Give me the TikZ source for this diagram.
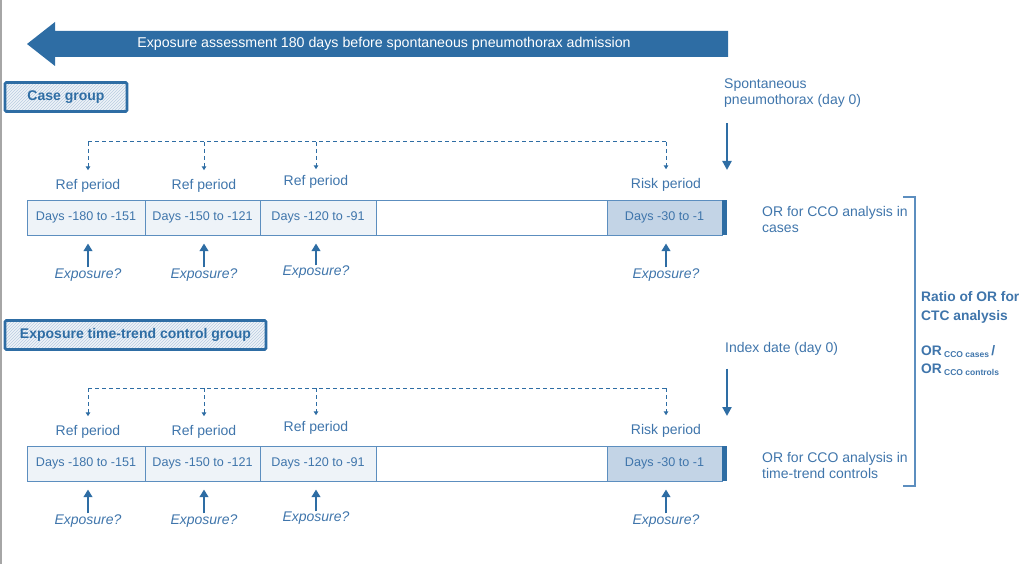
\documentclass[tikz,border=0pt]{standalone}
\usepackage{fontspec}
\setmainfont{Liberation Sans}
\usetikzlibrary{arrows.meta,patterns,calc}
\definecolor{mblue}{HTML}{2E6DA4}
\definecolor{tblue}{HTML}{3F75AB}
\definecolor{cellfill}{HTML}{EEF3F8}
\definecolor{riskfill}{HTML}{C3D4E6}
\definecolor{cellline}{HTML}{5C8EBF}
\definecolor{hatch}{HTML}{B9CCE0}
\tikzset{
  lbl/.style={text=tblue,font=\fontsize{14}{16}\selectfont,inner sep=0pt},
  expo/.style={lbl,font=\fontsize{14}{16}\selectfont\itshape},
  cellbox/.style={draw=cellline,line width=1pt,fill=cellfill,minimum height=35pt,inner sep=0pt,
    text=tblue,font=\fontsize{12.6}{15}\selectfont},
  riskbox/.style={cellbox,fill=riskfill},
  grpbox/.style={draw=mblue,line width=2.6pt,rounded corners=1.2pt,preaction={fill=cellfill},
    pattern=north east lines,pattern color=hatch,minimum height=29pt,inner sep=0pt,
    text=mblue,font=\fontsize{14}{16}\selectfont\bfseries},
  dashlink/.style={draw=mblue,line width=1pt,dash pattern=on 4pt off 3pt},
  dashtip/.style={dashlink,-{Triangle[width=4.5pt,length=4pt]},shorten >=9pt},
  uparrow/.style={draw=mblue,line width=2.6pt,-{Triangle[width=8.5pt,length=7.5pt]}},
  bigdown/.style={draw=mblue,line width=2.6pt,-{Triangle[width=9pt,length=9pt]}},
}
\newcommand\panelrow[2]{%
\begin{scope}[yshift=-#2pt]
  % cells
  \node[cellbox,minimum width=118pt] (#1c1) at (86,217.5) {Days -180 to -151};
  \node[cellbox,minimum width=115pt] (#1c2) at (202.5,217.5) {Days -150 to -121};
  \node[cellbox,minimum width=116pt] (#1c3) at (318,217.5) {Days -120 to -91};
  \node[cellbox,minimum width=231pt,fill=white] (#1c4) at (491.5,217.5) {};
  \node[riskbox,minimum width=115pt] (#1c5) at (664.5,217.5) {Days -30 to -1};
  \node[fill=mblue,minimum width=5pt,minimum height=35pt,inner sep=0pt] (#1end) at (724.5,217.5) {};
  % period labels
  \node[lbl] (#1r1) at (88,186) {Ref period};
  \node[lbl] (#1r2) at (204,186) {Ref period};
  \node[lbl] (#1r3) at (316,182) {Ref period};
  \node[lbl] (#1r4) at (666,185) {Risk period};
  % dashed links
  \coordinate (#1d1) at (88,142);
  \coordinate (#1d2) at (204,142);
  \coordinate (#1d3) at (316,142);
  \coordinate (#1d4) at (666,142);
  \draw[dashlink] (#1d1) -- (#1d4);
  \draw[dashtip] (#1d1) -- (#1r1.north);
  \draw[dashtip] (#1d2) -- (#1r2.north);
  \draw[dashtip,shorten >=6pt] (#1d3) -- (#1r3.north);
  \draw[dashtip] (#1d4) -- (#1r4.north);
  % exposure
  \node[expo] (#1e1) at (88,275) {Exposure?};
  \node[expo] (#1e2) at (204,275) {Exposure?};
  \node[expo] (#1e3) at (316,272) {Exposure?};
  \node[expo] (#1e4) at (666,275) {Exposure?};
  \draw[uparrow,shorten <=1pt,shorten >=8pt] (#1e1.north) -- (#1e1.north |- #1c1.south);
  \draw[uparrow,shorten <=1pt,shorten >=8pt] (#1e2.north) -- (#1e2.north |- #1c2.south);
  \draw[uparrow,shorten <=0pt,shorten >=8pt] (#1e3.north) -- (#1e3.north |- #1c3.south);
  \draw[uparrow,shorten <=1pt,shorten >=8pt] (#1e4.north) -- (#1e4.north |- #1c5.south);
\end{scope}}
\begin{document}
\begin{tikzpicture}[x=1pt,y=-1pt]
\useasboundingbox (0,0) rectangle (1024,564);
\draw[gray!70,line width=1.5pt] (0.75,0) -- (0.75,564);
% big arrow
\fill[mblue] (27,44) -- (55,22) -- (55,31) -- (728,31) -- (728,57) -- (55,57) -- (55,66) -- cycle;
\node[text=white,font=\fontsize{14.2}{16}\selectfont,inner sep=0pt] (title) at (384,44)
  {Exposure assessment 180 days before spontaneous pneumothorax admission};
% case group
\node[grpbox,minimum width=122pt] (case) at (66,97) {Case group};
\node[lbl,anchor=north west,align=left] (spont) at (724,79) {Spontaneous\\pneumothorax (day 0)};
\coordinate (spontend) at (727,170);
\draw[bigdown] (spont.south west -| spontend) ++(0,15) -- (spontend);
\panelrow{a}{0}
\node[lbl,anchor=west,align=left] (orcases) at (762,219) {OR for CCO analysis in\\cases};
% control group
\node[grpbox,minimum width=261pt] (ctrl) at (135.5,335) {Exposure time-trend control group};
\node[lbl,anchor=west] (index) at (725,349) {Index date (day 0)};
\coordinate (indexend) at (727,416);
\draw[bigdown] (index.south west -| indexend) ++(0,13) -- (indexend);
\panelrow{b}{246}
\node[lbl,anchor=west,align=left] (orctrl) at (762,465) {OR for CCO analysis in\\time-trend controls};
% bracket
\coordinate (bt) at (903,197);
\coordinate (bb) at (903,486);
\draw[cellline,line width=1.3pt] (bt) -- ++(12,0) |- (bb);
\node[lbl,anchor=west,align=left,font=\fontsize{13.8}{19}\selectfont\bfseries] (ratio) at (921,307)
  {Ratio of OR for\\CTC analysis};
\node[lbl,anchor=west,align=left,font=\fontsize{13.8}{18}\selectfont\bfseries] (orfrac) at (921,361)
  {OR\,\raisebox{-2pt}{\fontsize{8.5}{9}\selectfont CCO cases}\,/\\OR\,\raisebox{-2pt}{\fontsize{8.5}{9}\selectfont CCO controls}};
\end{tikzpicture}
\end{document}
